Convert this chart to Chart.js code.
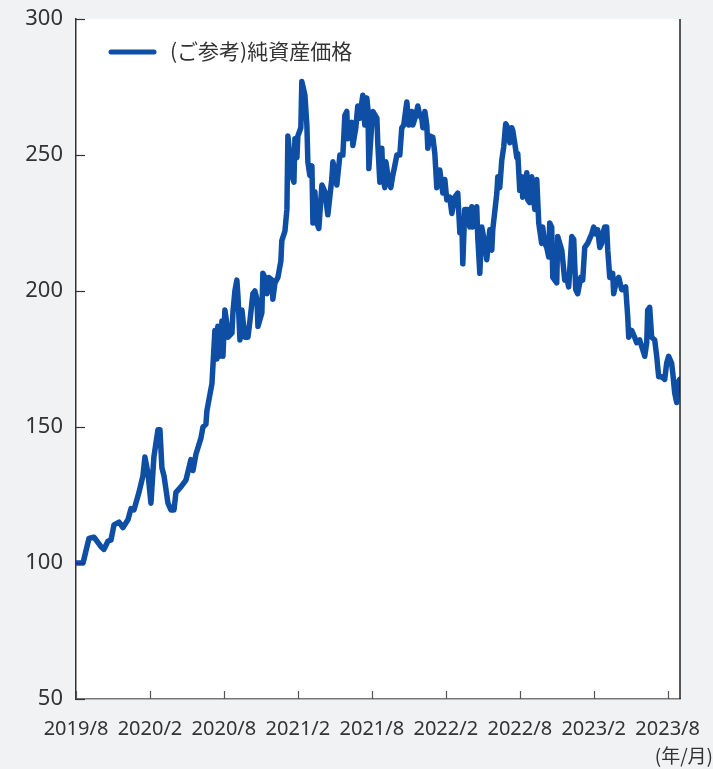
<!DOCTYPE html>
<html>
<head>
<meta charset="utf-8">
<script src="https://cdn.jsdelivr.net/npm/chart.js@4.4.0/dist/chart.umd.min.js"></script>
<style>
html,body{margin:0;padding:0;background:#f1f2f4;}
#wrap{width:713px;height:769px;}
canvas{display:block;}
</style>
</head>
<body>
<div id="wrap"><canvas id="c" width="713" height="769"></canvas></div>
<script>
// months elapsed since 2019/8
const months = [0,0.57,1.05,1.46,2.03,2.27,2.59,2.84,3.08,3.49,3.81,4.22,4.46,4.70,5.11,5.43,5.59,5.84,6.08,6.32,6.65,6.81,6.97,7.14,7.46,7.70,7.95,8.11,8.51,8.92,9.32,9.49,9.73,10.14,10.30,10.54,
10.62,11.03,11.27,11.43,11.51,11.68,11.84,11.92,12.08,12.24,12.32,12.65,12.73,12.89,13.05,13.14,13.30,13.46,13.70,13.95,14.11,14.35,14.51,14.68,14.76,15.08,15.16,15.32,15.49,15.65,15.89,15.97,16.14,16.38,16.62,16.70,16.95,17.11,
17.19,17.51,17.68,17.76,17.92,18.00,18.24,18.32,18.57,18.73,18.81,18.97,19.14,19.22,19.38,19.54,19.70,19.95,20.19,20.43,20.76,20.84,21.16,21.41,21.65,21.81,21.97,22.05,22.22,22.38,22.46,22.70,22.86,23.03,23.19,23.27,23.43,23.59,23.68,23.76,24.00,24.08,24.41,24.49,24.65,24.81,24.89,25.05,25.14,25.30,25.54,25.70,25.86,26.03,26.27,26.43,26.59,26.76,26.84,27.00,27.24,27.32,27.57,27.73,27.89,28.05,28.14,28.30,28.46,28.54,28.70,28.95,29.11,29.27,
29.51,29.76,29.92,30.08,30.32,30.49,30.73,30.97,31.14,31.30,31.38,31.54,31.78,31.95,32.11,32.19,32.51,32.59,32.76,32.92,33.16,33.32,33.57,33.73,33.81,34.14,34.22,34.38,34.54,34.70,34.86,35.03,35.19,35.35,35.43,35.59,35.76,35.84,36.00,36.16,36.24,36.57,36.65,36.81,36.97,37.05,37.22,37.38,37.54,37.78,37.86,38.03,38.19,38.35,
38.43,38.59,38.68,38.84,39.00,39.08,39.41,39.65,39.81,39.97,40.22,40.38,40.54,40.70,40.95,41.11,41.27,41.51,41.84,42.00,42.16,42.32,42.49,42.65,42.73,42.89,43.05,43.14,43.30,43.54,43.62,43.86,44.03,44.27,44.35,44.59,44.76,44.84,45.08,45.32,45.49,45.73,45.97,46.14,46.30,46.38,46.54,46.70,46.95,47.11,47.27,47.51,47.76,47.92,48.08,48.32,48.41,48.57,48.73,48.81,48.97];
const navValues = [100,100,109,109.5,106,105,108,108.5,114,115,113,116,120,119.5,126,132,139,133,122,139,149,149,135,132,122,119.5,119.5,126,128,130.5,138,134,140,146,150,151,
156,166,185.5,175,187,176,189,176,193,188,183,184.5,192,200,204,198,182,193,183,183,189,199,200,197,187,192,206.5,205,199,205,204,197,203,205,211,218.5,222,230,
257,242.5,240,256,249,257,260,277,272,261,247.5,242.5,246,225,236.5,225,223,239,236.5,228,241.5,247.5,239,250,250,264.5,266,256,258.5,262,253.5,260,268,263.5,269.5,272,261,271,267,245,262,266,263.5,253.5,240,252.5,242.5,238,247.5,242.5,238,242.5,246,250,250,260,261,267,269.5,261,266,261,264.5,268,264.5,263.5,260,266,261,252.5,257,256.5,250.5,238,
244.5,236,241,233.5,234.5,228.5,234.5,236,221.5,225,210,230,230,223.5,231,223.5,231,220,206.5,223.5,217.5,211.5,222.5,215,222.5,236,242,238,248,253,261.5,260,254.5,260,259,254.5,249,250.5,237,242,234.5,243.5,233.5,232.5,242,237,230,241,225,217.5,223.5,217.5,216,212.5,
225,223.5,205,204,203,220,215,204,205,201.5,220,219,200.5,199,205,204,216,217.5,221,223.5,221,222.5,216,217.5,221,223.5,223.5,215,205,206.5,199,204,205,200.5,200.5,201.5,190.5,183,185.5,183,181,182,178.5,176,181,193,194,183,182,176,168.5,168.5,167.5,173.5,176,173.5,170,162.5,159,166,167.5];
const tickMonths = [0,6,12,18,24,30,36,42,48];
const tickLabels = ['2019/8','2020/2','2020/8','2021/2','2021/8','2022/2','2022/8','2023/2','2023/8'];
const yTicks = [50,100,150,200,250,300];
const seriesLabel = '(ご参考)純資産価格';
const unitLabel = '(年/月)';

const LINE = '#0e4ea5';

const plotBg = {
  id:'plotBg',
  beforeDraw(chart){
    const {ctx, chartArea:a} = chart;
    ctx.save();
    ctx.fillStyle = '#f1f2f4';
    ctx.fillRect(0,0,chart.width,chart.height);
    ctx.fillStyle = '#ffffff';
    ctx.fillRect(a.left,a.top,a.right-a.left,a.bottom-a.top);
    ctx.restore();
  },
  afterDraw(chart){
    const {ctx, chartArea:a, scales} = chart;
    ctx.save();
    ctx.strokeStyle = '#222';
    ctx.lineWidth = 1.5;
    ctx.beginPath(); ctx.moveTo(a.right, a.top); ctx.lineTo(a.right, a.bottom); ctx.stroke();
    ctx.strokeStyle = '#333';
    ctx.lineWidth = 1.2;
    scales.y.ticks.forEach(t=>{
      const y = Math.round(scales.y.getPixelForValue(t.value))+0.5;
      ctx.beginPath(); ctx.moveTo(a.left, y); ctx.lineTo(a.left+9, y); ctx.stroke();
    });
    ctx.strokeStyle = '#555';
    scales.x.ticks.forEach(t=>{
      const x = Math.round(scales.x.getPixelForValue(t.value))+0.5;
      ctx.beginPath(); ctx.moveTo(x, a.bottom); ctx.lineTo(x, a.bottom-8); ctx.stroke();
    });
    const ds = chart.data.datasets[0];
    ctx.strokeStyle = ds.borderColor;
    ctx.lineWidth = 5;
    ctx.lineCap = 'round';
    ctx.beginPath(); ctx.moveTo(a.left+35, a.top+33); ctx.lineTo(a.left+78, a.top+33); ctx.stroke();
    ctx.fillStyle = '#333';
    ctx.font = '21px "Noto Sans CJK JP"';
    ctx.textBaseline = 'middle';
    ctx.textAlign = 'left';
    ctx.fillText(ds.label, a.left+94, a.top+32);
    ctx.font = '19px "Noto Sans CJK JP"';
    ctx.textAlign = 'right';
    ctx.fillText(unitLabel, 713, 756);
    ctx.restore();
  }
};

new Chart(document.getElementById('c'), {
  type:'line',
  data:{
    datasets:[{
      label: seriesLabel,
      data: months.map((m,i)=>({x:m, y:navValues[i]})),
      borderColor: LINE,
      borderWidth: 5.5,
      pointRadius: 0,
      tension: 0,
      borderJoinStyle:'round',
      borderCapStyle:'round',
      fill:false
    }]
  },
  options:{
    responsive:false,
    animation:false,
    layout:{padding:{top:19,right:33,left:0,bottom:0}},
    plugins:{legend:{display:false}, tooltip:{enabled:false}},
    scales:{
      x:{
        type:'linear',
        min:0, max:49,
        afterBuildTicks(s){ s.ticks = tickMonths.map(v=>({value:v})); },
        ticks:{
          callback(v){ const i = tickMonths.indexOf(v); return i>=0 ? tickLabels[i] : ''; },
          color:'#333',
          font:{family:'"Noto Sans", sans-serif', size:20},
          padding:18,
          maxRotation:0, autoSkip:false
        },
        grid:{drawOnChartArea:false, drawTicks:false},
        border:{color:'#777', width:1.5},
        afterFit(s){ s.height = 70; s.paddingLeft = 0; s.paddingRight = 0; }
      },
      y:{
        min:50, max:300,
        afterBuildTicks(s){ s.ticks = yTicks.map(v=>({value:v})); },
        ticks:{
          color:'#333',
          font:{family:'"Noto Sans", sans-serif', size:22},
          padding:13
        },
        grid:{drawOnChartArea:false, drawTicks:false},
        border:{color:'#333', width:1.5},
        afterFit(s){ s.width = 76; s.paddingTop = 0; s.paddingBottom = 0; }
      }
    }
  },
  plugins:[plotBg]
});
</script>
</body>
</html>
